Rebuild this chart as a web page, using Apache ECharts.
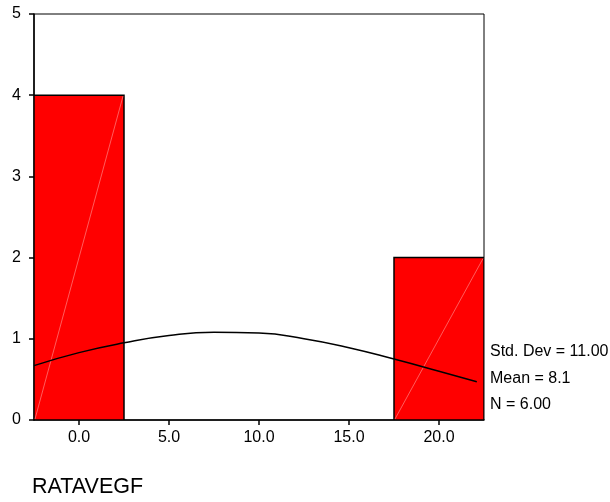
<!DOCTYPE html>
<html><head><meta charset="utf-8">
<script src="https://cdn.jsdelivr.net/npm/echarts@6/dist/echarts.min.js"></script>
<style>html,body{margin:0;padding:0;background:#fff}#c{width:610px;height:502px}</style>
</head><body><div id="c"></div>
<script>
// Histogram bins (centres) and counts
const binCenters = [0, 20];
const binCounts = [4, 2];
const binWidth = 5;
// Normal curve
const curveX = [-2.5, 0, 2.5, 5, 7.5, 10, 12.5, 15, 17.5, 20, 22.1];
const curveY = [0.67, 0.83, 0.95, 1.04, 1.08, 1.07, 1.00, 0.89, 0.75, 0.60, 0.47];
const statLabels = ['Std. Dev = 11.00', 'Mean = 8.1', 'N = 6.00'];
const xTitle = 'RATAVEGF';
const yTicks = [0, 1, 2, 3, 4, 5];

const font = '"Liberation Sans", Arial, sans-serif';
const chart = echarts.init(document.getElementById('c'), null, {renderer: 'canvas'});
const barData = binCenters.map((c, i) => [c, binCounts[i]]);
const curveData = curveX.map((x, i) => [x, curveY[i]]);

chart.setOption({
  animation: false,
  backgroundColor: '#fff',
  grid: {left: 34, top: 14, width: 450, height: 406, show: true, borderColor: '#000', borderWidth: 1, containLabel: false},
  xAxis: {
    type: 'value', min: -2.5, max: 22.5, splitNumber: 5,
    axisLine: {show: true, onZero: false, lineStyle: {color: '#000', width: 1.5}},
    axisTick: {show: true, length: 5, lineStyle: {color: '#000', width: 1.5}},
    axisLabel: {showMinLabel: false, showMaxLabel: false, color: '#000', fontFamily: font, fontSize: 16, margin: 10,
      formatter: v => v.toFixed(1)},
    splitLine: {show: false}
  },
  yAxis: {
    type: 'value', min: yTicks[0], max: yTicks[yTicks.length - 1], interval: 1,
    axisLine: {show: true, onZero: false, lineStyle: {color: '#000', width: 1.5}},
    axisTick: {show: true, length: 5, lineStyle: {color: '#000', width: 1.5}},
    axisLabel: {color: '#000', fontFamily: font, fontSize: 16, margin: 13},
    splitLine: {show: false}
  },
  graphic: [
    ...statLabels.map((t, i) => ({
      type: 'text', left: 490, top: 353 + i * 26.5 - 9,
      style: {text: t, fill: '#000', font: '16px ' + font}
    })),
    {type: 'text', left: 32, top: 488 - 12, style: {text: xTitle, fill: '#000', font: '21.5px ' + font}}
  ],
  series: [
    {
      type: 'custom', data: barData, clip: true,
      renderItem: function (params, api) {
        const c = api.value(0), v = api.value(1);
        const p0 = api.coord([c - binWidth / 2, 0]);
        const p1 = api.coord([c + binWidth / 2, v]);
        return {
          type: 'group',
          children: [
            {type: 'rect', shape: {x: p0[0], y: p1[1], width: p1[0] - p0[0], height: p0[1] - p1[1]},
              style: {fill: '#ff0000', stroke: '#000', lineWidth: 1.5}},
            {type: 'line', shape: {x1: p0[0] + 1, y1: p0[1] - 1, x2: p1[0] - 1, y2: p1[1] + 1},
              style: {stroke: '#ff9a9a', lineWidth: 0.6}}
          ]
        };
      }
    },
    {
      type: 'line', data: curveData, smooth: true, showSymbol: false,
      lineStyle: {color: '#000', width: 1.5}
    }
  ]
});
</script></body></html>
